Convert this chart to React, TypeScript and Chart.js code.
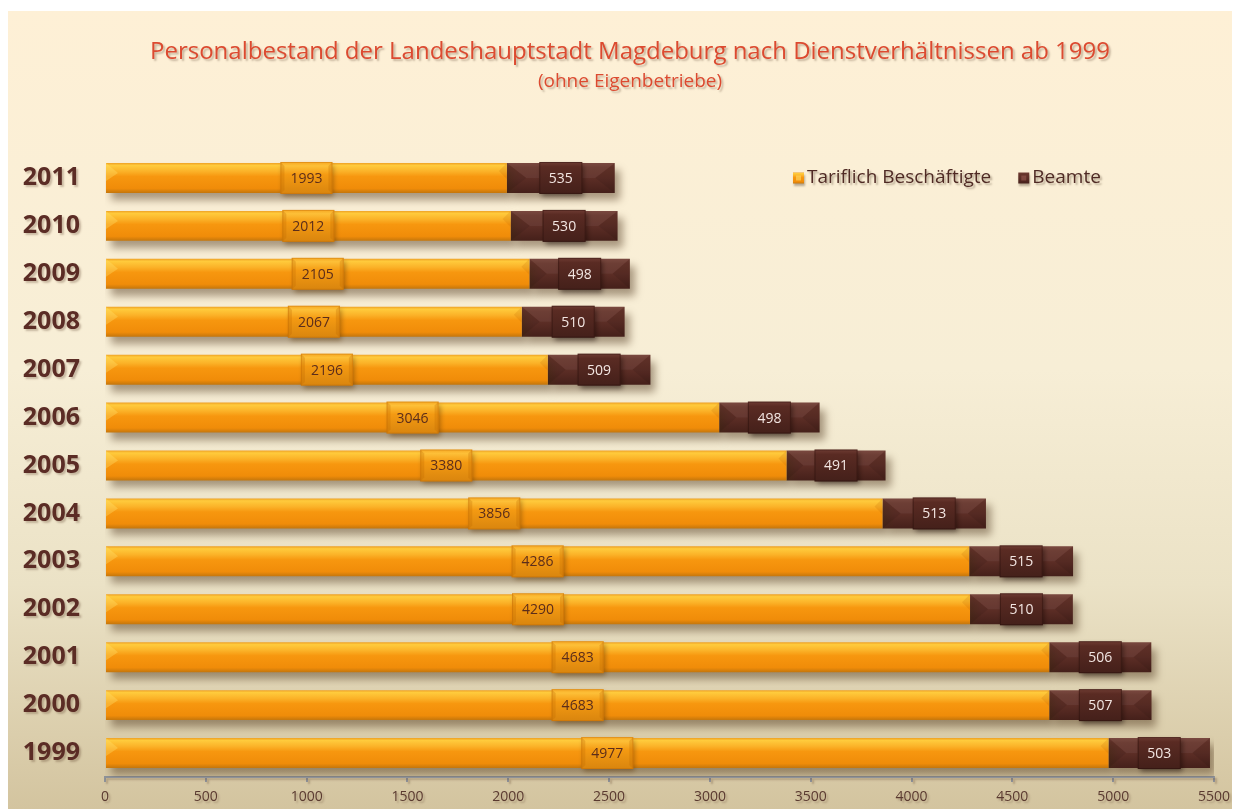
import { useEffect, useRef } from "react";
import { Chart, registerables } from "chart.js";

Chart.register(...registerables);

const years = ["2011", "2010", "2009", "2008", "2007", "2006", "2005", "2004", "2003", "2002", "2001", "2000", "1999"];
const tariflich = [1993, 2012, 2105, 2067, 2196, 3046, 3380, 3856, 4286, 4290, 4683, 4683, 4977];
const beamte = [535, 530, 498, 510, 509, 498, 491, 513, 515, 510, 506, 507, 503];
const xTicks = [0, 500, 1000, 1500, 2000, 2500, 3000, 3500, 4000, 4500, 5000, 5500];
const seriesNames = ["Tariflich Beschäftigte", "Beamte"];
const titleText = "Personalbestand der Landeshauptstadt Magdeburg nach Dienstverhältnissen ab 1999";
const subtitleText = "(ohne Eigenbetriebe)";

const FONT = "'Open Sans', 'Noto Sans', sans-serif";
const BAR_PCT = 0.625;

const orangeStops: [number, string][] = [
  [0, "#eea024"],
  [0.08, "#ffcb3c"],
  [0.28, "#fbb228"],
  [0.45, "#f7970f"],
  [0.85, "#f08c09"],
  [1, "#c4760c"],
];
const brownStops: [number, string][] = [
  [0, "#734036"],
  [0.15, "#66342b"],
  [0.5, "#5d2e26"],
  [1, "#45201a"],
];

function makeGrad(ctx: CanvasRenderingContext2D, top: number, bottom: number, stops: [number, string][]) {
  const g = ctx.createLinearGradient(0, top, 0, bottom);
  stops.forEach(([o, c]) => g.addColorStop(o, c));
  return g;
}

function barFill(stops: [number, string][], fallback: string) {
  return (c: any) => {
    const chart = c.chart;
    const ys = chart.scales?.y;
    if (!chart.chartArea || !ys) return fallback;
    const y = ys.getPixelForValue(c.dataIndex);
    const band = (chart.chartArea.bottom - chart.chartArea.top) / years.length;
    const h = band * BAR_PCT;
    return makeGrad(chart.ctx, y - h / 2, y + h / 2, stops);
  };
}

const bgPlugin = {
  id: "bgAndTitle",
  beforeDraw(chart: any) {
    const ctx = chart.ctx as CanvasRenderingContext2D;
    const w = chart.width;
    const h = chart.height;
    ctx.save();
    const g = ctx.createLinearGradient(0, 0, 0, h);
    g.addColorStop(0, "#fef0d6");
    g.addColorStop(0.45, "#f7eed6");
    g.addColorStop(0.72, "#ebe2c6");
    g.addColorStop(1, "#d3c49f");
    ctx.fillStyle = g;
    ctx.fillRect(0, 3, w, h - 3);

    ctx.shadowColor = "rgba(90,60,40,0.35)";
    ctx.shadowOffsetX = 2;
    ctx.shadowOffsetY = 2;
    ctx.shadowBlur = 2;
    ctx.fillStyle = "#dc4a30";
    ctx.textAlign = "center";
    ctx.textBaseline = "middle";
    ctx.font = `24px ${FONT}`;
    ctx.fillText(titleText, 622, 44);
    ctx.font = `19px ${FONT}`;
    ctx.fillText(subtitleText, 622, 74);
    ctx.restore();

    // shadow for scale labels
    ctx.save();
    ctx.shadowColor = "rgba(90,60,40,0.3)";
    ctx.shadowOffsetX = 2;
    ctx.shadowOffsetY = 2;
    ctx.shadowBlur = 2;
  },
  beforeDatasetsDraw(chart: any) {
    const ctx = chart.ctx as CanvasRenderingContext2D;
    ctx.restore();
    ctx.save();
    ctx.shadowColor = "rgba(70,45,20,0.45)";
    ctx.shadowOffsetX = 5;
    ctx.shadowOffsetY = 7;
    ctx.shadowBlur = 8;
  },
  afterDatasetsDraw(chart: any) {
    chart.ctx.restore();
  },
};

const labelPlugin = {
  id: "barLabels",
  afterDatasetsDraw(chart: any) {
    const ctx = chart.ctx as CanvasRenderingContext2D;
    chart.data.datasets.forEach((ds: any, di: number) => {
      const meta = chart.getDatasetMeta(di);
      meta.data.forEach((el: any, i: number) => {
        const { x, y, base, height } = el.getProps(["x", "y", "base", "height"], true);
        const left = Math.min(x, base);
        const right = Math.max(x, base);
        const top = y - height / 2;
        const bottom = y + height / 2;
        const cx = (left + right) / 2;
        ctx.save();
        if (di === 0) {
          ctx.fillStyle = "rgba(255,225,110,0.35)";
          ctx.beginPath();
          ctx.moveTo(left, top);
          ctx.lineTo(left + 12, top + 10);
          ctx.lineTo(left, top + 18);
          ctx.closePath();
          ctx.fill();
          ctx.fillStyle = "rgba(190,100,0,0.18)";
          ctx.beginPath();
          ctx.moveTo(right, top);
          ctx.lineTo(right - 8, top + 8);
          ctx.lineTo(right, top + 16);
          ctx.closePath();
          ctx.fill();

          const bw = 52;
          const bx = cx - bw / 2;
          ctx.save();
          ctx.shadowColor = "rgba(90,50,0,0.45)";
          ctx.shadowOffsetX = 2;
          ctx.shadowOffsetY = 3;
          ctx.shadowBlur = 5;
          ctx.fillStyle = makeGrad(ctx, top - 1, bottom + 1, [
            [0, "#f6a824"],
            [0.12, "#fdc038"],
            [0.4, "#f49a12"],
            [1, "#d9850e"],
          ]);
          ctx.fillRect(bx, top - 1, bw, height + 2);
          ctx.restore();
          ctx.fillStyle = "rgba(190,105,0,0.28)";
          ctx.beginPath();
          ctx.moveTo(bx, top - 1);
          ctx.lineTo(bx + 4, top + 3);
          ctx.lineTo(bx + 4, bottom - 3);
          ctx.lineTo(bx, bottom + 1);
          ctx.closePath();
          ctx.fill();
          ctx.beginPath();
          ctx.moveTo(bx + bw, top - 1);
          ctx.lineTo(bx + bw - 4, top + 3);
          ctx.lineTo(bx + bw - 4, bottom - 3);
          ctx.lineTo(bx + bw, bottom + 1);
          ctx.closePath();
          ctx.fill();
          ctx.strokeStyle = "rgba(190,100,0,0.35)";
          ctx.lineWidth = 1;
          ctx.strokeRect(bx + 0.5, top - 0.5, bw - 1, height + 1);
          ctx.fillStyle = "#5b2d1b";
        } else {
          const bw = 43;
          const bx = cx - bw / 2;
          const sideL = bx - left;
          const sideR = right - (bx + bw);
          ctx.fillStyle = "rgba(255,255,255,0.05)";
          ctx.beginPath();
          ctx.moveTo(left, top);
          ctx.lineTo(bx, top);
          ctx.lineTo(bx, y);
          ctx.lineTo(left + sideL * 0.6, y);
          ctx.closePath();
          ctx.fill();
          ctx.beginPath();
          ctx.moveTo(right, top);
          ctx.lineTo(bx + bw, top);
          ctx.lineTo(bx + bw, y);
          ctx.lineTo(right - sideR * 0.6, y);
          ctx.closePath();
          ctx.fill();
          ctx.fillStyle = "rgba(0,0,0,0.08)";
          ctx.beginPath();
          ctx.moveTo(left, bottom);
          ctx.lineTo(left + sideL * 0.6, y);
          ctx.lineTo(left, top);
          ctx.closePath();
          ctx.fill();
          ctx.beginPath();
          ctx.moveTo(right, bottom);
          ctx.lineTo(right - sideR * 0.6, y);
          ctx.lineTo(right, top);
          ctx.closePath();
          ctx.fill();

          ctx.save();
          ctx.shadowColor = "rgba(20,5,0,0.5)";
          ctx.shadowOffsetX = 2;
          ctx.shadowOffsetY = 3;
          ctx.shadowBlur = 5;
          ctx.fillStyle = makeGrad(ctx, top - 1, bottom + 1, [
            [0, "#6f3c33"],
            [0.15, "#5a2b23"],
            [1, "#44201a"],
          ]);
          ctx.fillRect(bx, top - 1, bw, height + 2);
          ctx.restore();
          ctx.strokeStyle = "rgba(30,10,5,0.35)";
          ctx.lineWidth = 1;
          ctx.strokeRect(bx + 0.5, top - 0.5, bw - 1, height + 1);
          ctx.fillStyle = "#f3e6e2";
        }
        ctx.font = `14px ${FONT}`;
        ctx.textAlign = "center";
        ctx.textBaseline = "middle";
        ctx.fillText(String(ds.data[i]), cx, y + 1);
        ctx.restore();
      });
    });
  },
};

const legendPlugin = {
  id: "customLegend",
  afterDraw(chart: any) {
    const ctx = chart.ctx as CanvasRenderingContext2D;
    ctx.save();
    ctx.font = `19px ${FONT}`;
    ctx.textBaseline = "middle";
    ctx.textAlign = "left";
    const yc = 170;
    let bx = 785;
    const stopsList = [orangeStops, brownStops];
    seriesNames.forEach((name, k) => {
      ctx.save();
      ctx.shadowColor = "rgba(60,40,20,0.35)";
      ctx.shadowOffsetX = 1;
      ctx.shadowOffsetY = 2;
      ctx.shadowBlur = 2;
      ctx.fillStyle = makeGrad(ctx, yc - 5.5, yc + 5.5, stopsList[k]);
      ctx.fillRect(bx, yc - 5.5, 11, 11);
      ctx.restore();
      ctx.fillStyle = k === 0 ? "rgba(255,220,100,0.6)" : "rgba(150,90,80,0.6)";
      ctx.fillRect(bx + 3, yc - 2.5, 5, 5);
      ctx.save();
      ctx.shadowColor = "rgba(60,40,20,0.35)";
      ctx.shadowOffsetX = 2;
      ctx.shadowOffsetY = 2;
      ctx.shadowBlur = 2;
      ctx.fillStyle = "#4f2a24";
      ctx.fillText(name, bx + 14, yc);
      ctx.restore();
      bx += 14 + ctx.measureText(name).width + 27;
    });
    ctx.restore();
  },
};

export default function App() {
  const ref = useRef<HTMLCanvasElement>(null);
  useEffect(() => {
    document.body.style.overflow = "hidden";
    const canvas = ref.current!;
    const chart = new Chart(canvas, {
      type: "bar",
      data: {
        labels: years,
        datasets: [
          {
            label: seriesNames[0],
            data: tariflich,
            backgroundColor: barFill(orangeStops, "#f7960e") as any,
            borderWidth: 0,
            categoryPercentage: 1,
            barPercentage: BAR_PCT,
          },
          {
            label: seriesNames[1],
            data: beamte,
            backgroundColor: barFill(brownStops, "#5e2f27") as any,
            borderWidth: 0,
            categoryPercentage: 1,
            barPercentage: BAR_PCT,
          },
        ],
      },
      options: {
        indexAxis: "y",
        responsive: false,
        animation: false,
        layout: { padding: { top: 146, right: 26, bottom: 0, left: 0 } },
        scales: {
          x: {
            stacked: true,
            min: 0,
            max: 5500,
            afterBuildTicks: (s: any) => {
              s.ticks = xTicks.map((v) => ({ value: v }));
            },
            afterFit: (s: any) => {
              s.height = 31;
            },
            ticks: {
              color: "#5a3a30",
              font: { family: FONT, size: 14 },
              padding: 7,
              callback: (v: any) => String(v),
            },
            grid: { drawOnChartArea: false, tickLength: 5, color: "#8e9298", lineWidth: 2 },
            border: { color: "#8e9298", width: 2 },
          },
          y: {
            stacked: true,
            grid: { display: false },
            border: { display: false },
            ticks: {
              color: "#5b2c25",
              font: { family: FONT, size: 25, weight: "bold" },
              padding: 17,
            },
            afterFit: (s: any) => {
              s.width = 97;
            },
          },
        },
        plugins: {
          legend: { display: false },
          tooltip: { enabled: false },
          title: { display: false },
        },
      },
      plugins: [bgPlugin, labelPlugin, legendPlugin],
    } as any);
    return () => chart.destroy();
  }, []);
  return <canvas ref={ref} width={1232} height={801} style={{ display: "block" }} />;
}
